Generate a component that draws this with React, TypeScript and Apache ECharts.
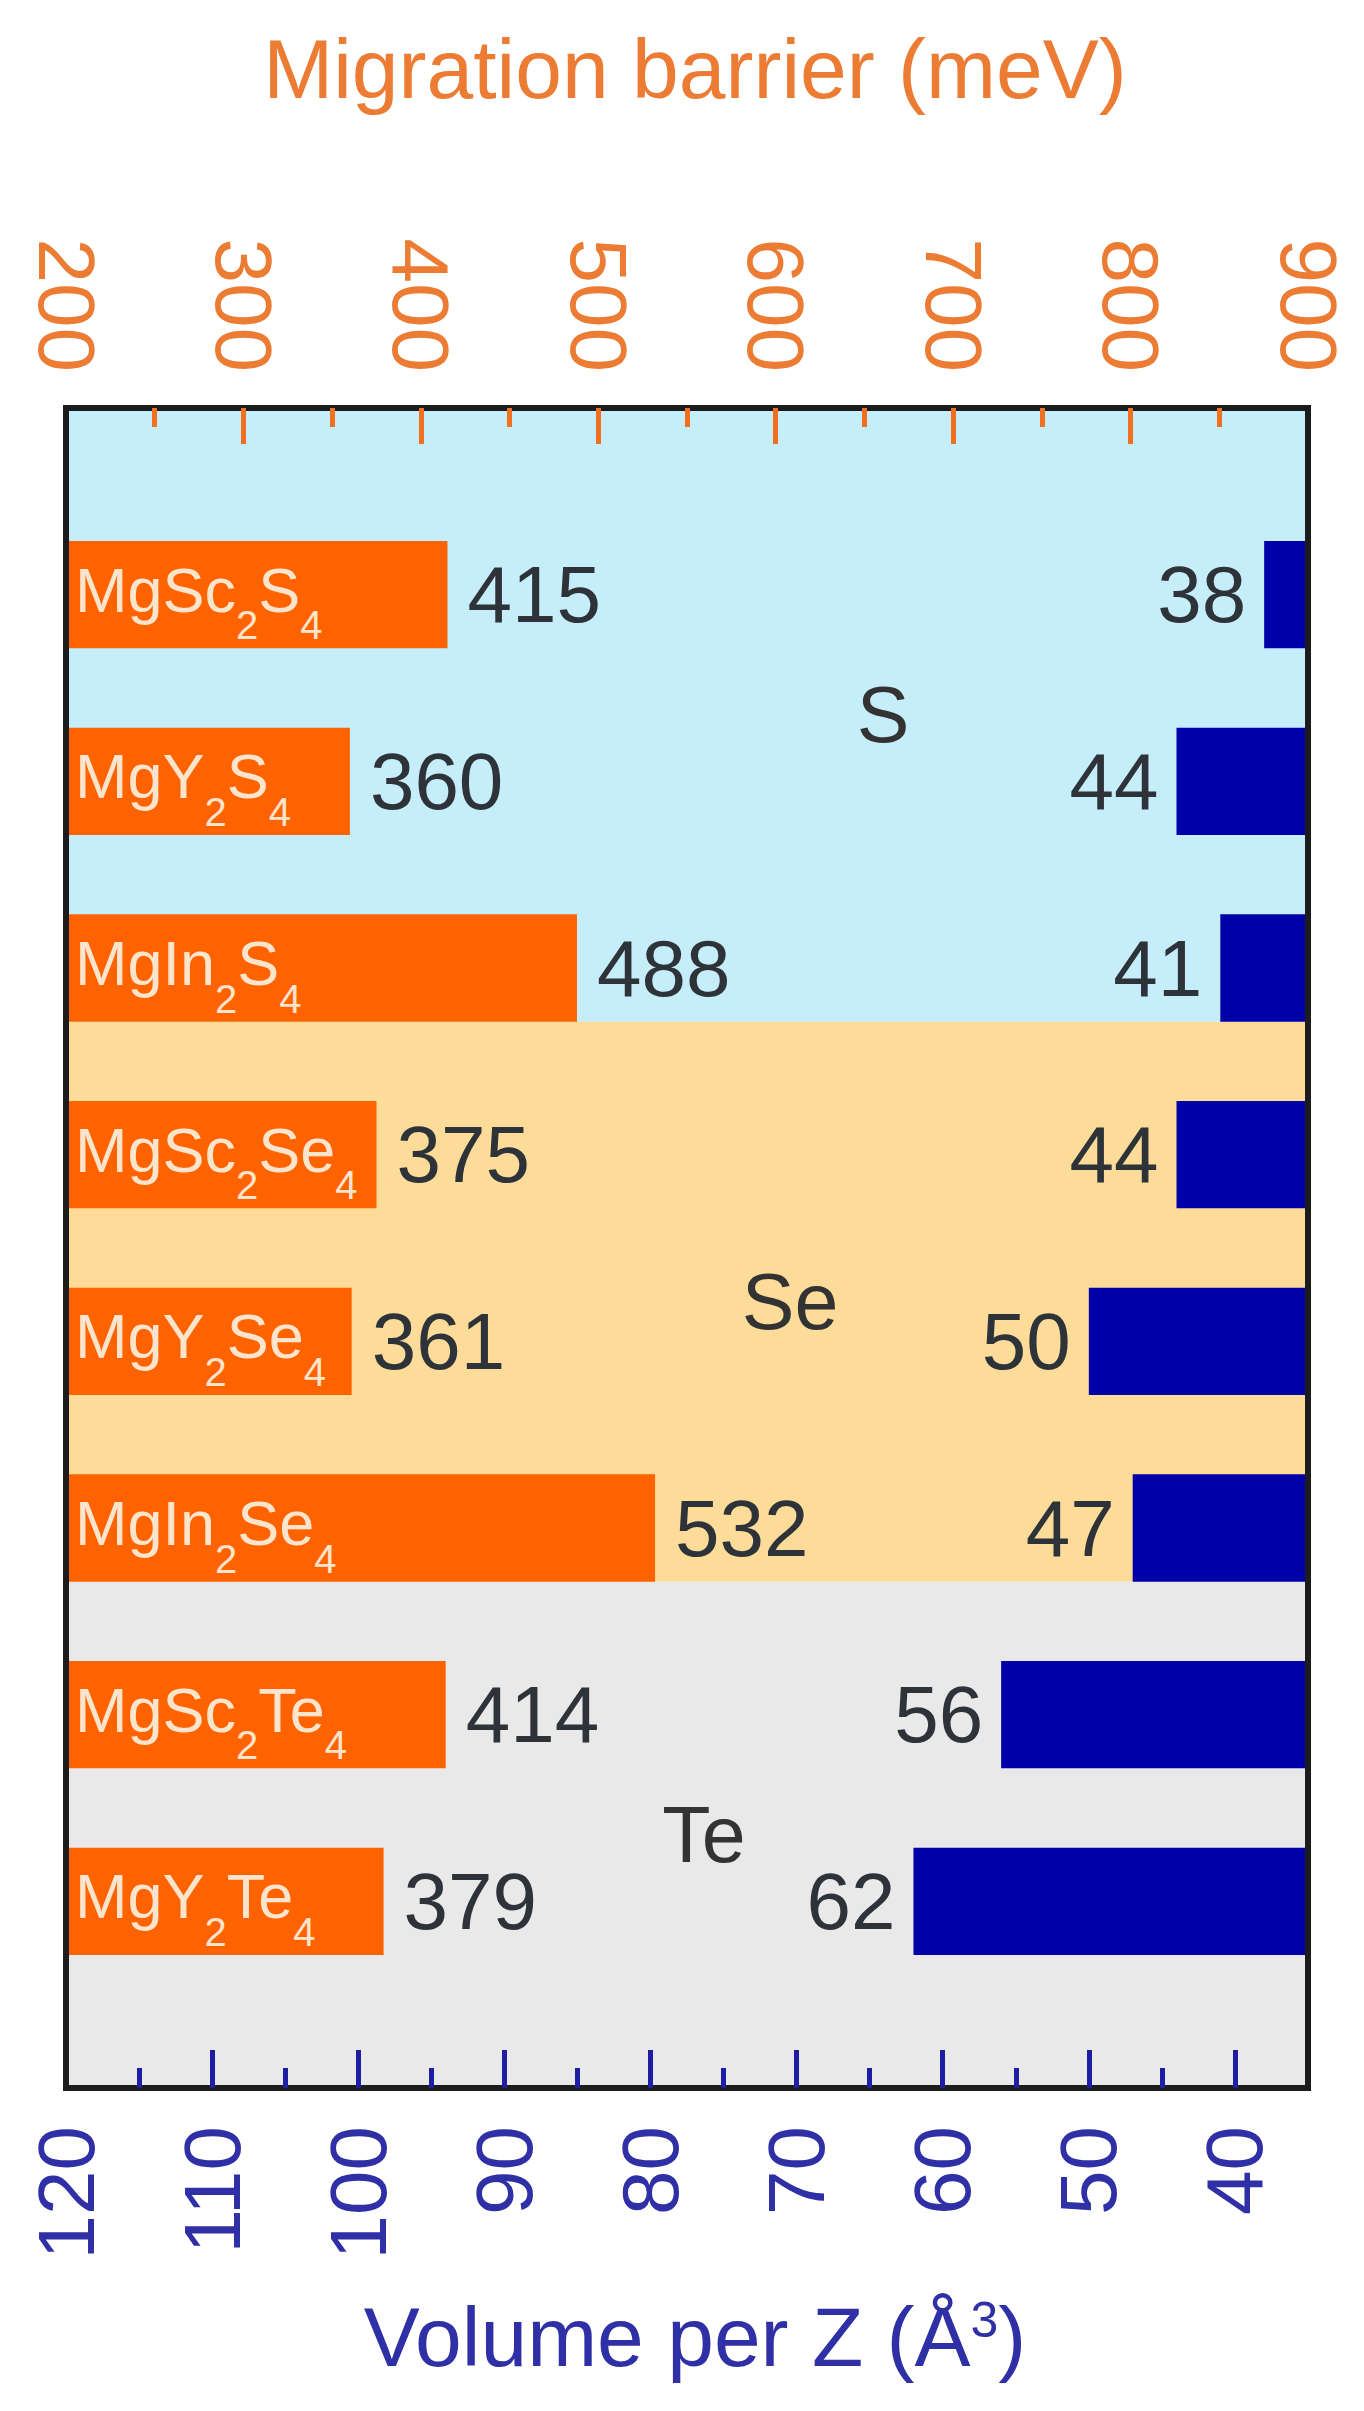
import { useEffect, useRef } from 'react';
import * as echarts from 'echarts';

// rows, top to bottom
const compounds = ['MgSc2S4', 'MgY2S4', 'MgIn2S4', 'MgSc2Se4', 'MgY2Se4', 'MgIn2Se4', 'MgSc2Te4', 'MgY2Te4'];
// migration barrier (meV), top axis
const barrier = [415, 360, 488, 375, 361, 532, 414, 379];
// volume per Z (Å^3), bottom axis
const volume = [38, 44, 41, 44, 50, 47, 56, 62];
// anion groups and how many rows each one spans
const groups = ['S', 'Se', 'Te'];
const groupRows = [3, 3, 2];

const FONT = "'Liberation Sans', Arial, Helvetica, sans-serif";
const ORANGE_BAR = '#ff6300';
const ORANGE_TEXT = '#ec7b34';
const ORANGE_TICK = '#f0701f';
const BLUE_BAR = '#0000a8';
const BLUE_TEXT = '#2f2fa6';
const BLUE_TICK = '#1e1ea4';
const FRAME = '#1c1c1c';
const INK = '#2d3338';
const BAND_COLORS = ['#c5eefa', '#fddc99', '#e9e9e9'];
const BAND_LABEL_SHIFT = [196, 103, 17];
const BAR_RATIO = 0.575;

// one empty slot above and below the rows
const rows = ['', ...compounds, ''];
const pad = (v: number[]) => ['-', ...v, '-'];

// MgSc2S4 -> rich text with subscript digits
const formula = (name: string) =>
  name
    .split(/(\d+)/)
    .filter(Boolean)
    .map((p) => (/\d/.test(p) ? `{s|${p}}` : `{m|${p}}`))
    .join('');

function buildOption(): echarts.EChartsOption {
  // band edges in row units, each group ends at the bottom of its last bar
  const edges = [0];
  let cum = 0;
  groupRows.forEach((n, i) => {
    cum += n;
    edges.push(i === groupRows.length - 1 ? rows.length - 1 : cum + BAR_RATIO / 2);
  });

  const frameLine = { show: true, onZero: false, lineStyle: { color: FRAME, width: 6, cap: 'square' as const } };

  return {
    animation: false,
    backgroundColor: '#ffffff',
    textStyle: { fontFamily: FONT },
    grid: { left: 66, right: 56, top: 408, bottom: 323, containLabel: false, outerBoundsMode: 'none' } as any,
    title: [
      {
        text: 'Migration barrier (meV)',
        left: 690,
        top: 22,
        textAlign: 'center',
        textStyle: { fontSize: 84, fontWeight: 'normal', color: ORANGE_TEXT, fontFamily: FONT },
      },
      {
        text: '{a|Volume per Z (Å}{b|3}{a|)}',
        left: 690,
        top: 2290,
        textAlign: 'center',
        textStyle: {
          fontWeight: 'normal',
          rich: {
            a: {
              fontSize: 84,
              lineHeight: 84,
              fontWeight: 'normal',
              color: BLUE_TEXT,
              fontFamily: FONT,
              verticalAlign: 'top',
            },
            b: {
              fontSize: 50,
              lineHeight: 84,
              fontWeight: 'normal',
              color: BLUE_TEXT,
              fontFamily: FONT,
              verticalAlign: 'top',
              padding: [0, 0, 30, 0],
            },
          },
        },
      },
    ],
    xAxis: [
      {
        type: 'value',
        position: 'top',
        min: 200,
        max: 900,
        interval: 100,
        z: 10,
        axisLine: frameLine,
        axisTick: { show: true, inside: true, length: 36, lineStyle: { color: ORANGE_TICK, width: 5 } },
        minorTick: { show: true, splitNumber: 2, length: 19, lineStyle: { color: ORANGE_TICK, width: 5 } },
        axisLabel: { rotate: 90, margin: 36, fontSize: 80, color: ORANGE_TEXT, fontFamily: FONT },
        splitLine: { show: false },
      },
      {
        type: 'value',
        position: 'bottom',
        min: 35,
        max: 120,
        inverse: true,
        splitNumber: 9,
        z: 10,
        axisLine: frameLine,
        axisTick: { show: true, inside: true, length: 38, lineStyle: { color: BLUE_TICK, width: 5 } },
        minorTick: { show: true, splitNumber: 2, length: 20, lineStyle: { color: BLUE_TICK, width: 5 } },
        axisLabel: {
          rotate: 90,
          margin: 38,
          fontSize: 80,
          color: BLUE_TEXT,
          fontFamily: FONT,
          showMinLabel: false,
          formatter: (v: number) => (v % 10 === 0 ? String(v) : ''),
        },
        splitLine: { show: false },
      },
    ],
    yAxis: [
      {
        type: 'category',
        data: rows,
        inverse: true,
        boundaryGap: false,
        position: 'left',
        z: 11,
        axisLine: frameLine,
        axisTick: { show: false },
        axisLabel: { show: false },
        splitLine: { show: false },
      },
      {
        type: 'value',
        min: 0,
        max: rows.length - 1,
        inverse: true,
        position: 'right',
        z: 11,
        axisLine: frameLine,
        axisTick: { show: false },
        axisLabel: { show: false },
        splitLine: { show: false },
      },
    ],
    series: [
      {
        name: 'bands',
        type: 'line',
        xAxisIndex: 0,
        yAxisIndex: 1,
        data: [],
        silent: true,
        markArea: {
          silent: true,
          label: { show: true, position: 'inside', fontSize: 79, color: '#333333', fontFamily: FONT },
          data: groups.map((g, i) => [
            {
              name: g,
              yAxis: edges[i],
              itemStyle: { color: BAND_COLORS[i] },
              label: { offset: [BAND_LABEL_SHIFT[i], 0] },
            },
            { yAxis: edges[i + 1] },
          ]) as any,
        },
      },
      {
        name: 'Migration barrier',
        type: 'bar',
        xAxisIndex: 0,
        yAxisIndex: 0,
        data: pad(barrier),
        barWidth: `${BAR_RATIO * 100}%`,
        barGap: '-100%',
        itemStyle: { color: ORANGE_BAR },
        label: {
          show: true,
          position: 'insideLeft',
          distance: 9,
          offset: [0, 7],
          formatter: (p: any) => formula(p.name),
          rich: {
            m: { fontSize: 63, lineHeight: 63, color: '#fde4cc', fontFamily: FONT, verticalAlign: 'top' },
            s: { fontSize: 40, color: '#fde4cc', fontFamily: FONT, verticalAlign: 'top', padding: [47, 0, 0, 0] },
          },
        },
      },
      {
        name: 'Migration barrier value',
        type: 'bar',
        xAxisIndex: 0,
        yAxisIndex: 0,
        data: pad(barrier),
        barWidth: `${BAR_RATIO * 100}%`,
        barGap: '-100%',
        silent: true,
        itemStyle: { color: 'rgba(0,0,0,0)' },
        label: { show: true, position: 'right', distance: 20, fontSize: 80, color: INK, fontFamily: FONT },
      },
      {
        name: 'Volume per Z',
        type: 'bar',
        xAxisIndex: 1,
        yAxisIndex: 0,
        data: pad(volume),
        barWidth: `${BAR_RATIO * 100}%`,
        barGap: '-100%',
        itemStyle: { color: BLUE_BAR },
        label: { show: true, position: 'left', distance: 18, fontSize: 80, color: INK, fontFamily: FONT },
      },
    ],
  };
}

export default function App() {
  const chartRef = useRef<HTMLDivElement>(null);

  useEffect(() => {
    if (!chartRef.current) return;
    const chart = echarts.init(chartRef.current, null, { renderer: 'svg' });
    chart.setOption(buildOption());
    return () => {
      chart.dispose();
    };
  }, []);

  return (
    <div
      ref={chartRef}
      style={{ position: 'absolute', left: 0, top: 0, width: 1364, height: 2411, background: '#ffffff' }}
    />
  );
}
